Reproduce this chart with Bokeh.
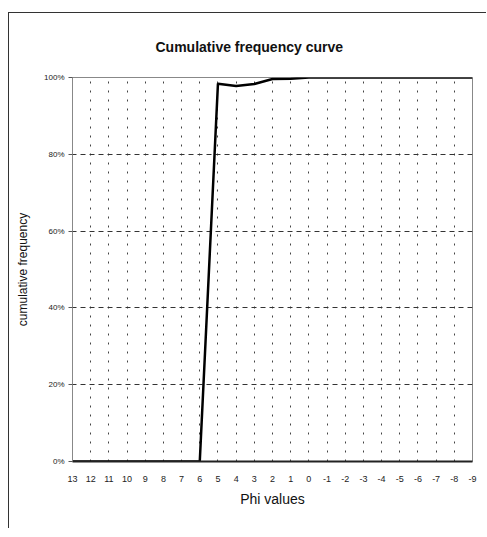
from bokeh.plotting import figure
from bokeh.models import Range1d, FixedTicker, NumeralTickFormatter
from bokeh.embed import file_html
from bokeh.resources import INLINE

phi = [13, 12, 11, 10, 9, 8, 7, 6, 5, 4, 3, 2, 1, 0, -1, -2, -3, -4, -5, -6, -7, -8, -9]
phi_labels = ["13", "12", "11", "10", "9", "8", "7", "6", "5", "4", "3", "2", "1", "0",
              "-1", "-2", "-3", "-4", "-5", "-6", "-7", "-8", "-9"]
cum_freq = [0.0, 0.0, 0.0, 0.0, 0.0, 0.0, 0.0, 0.0, 0.984, 0.978, 0.983, 0.996, 0.997,
            1.0, 1.0, 1.0, 1.0, 1.0, 1.0, 1.0, 1.0, 1.0, 1.0]
y_ticks = [0, 0.2, 0.4, 0.6, 0.8, 1.0]
title_text = "Cumulative frequency curve"

FONT = "Liberation Sans"

p = figure(width=478, height=516, output_backend="svg", toolbar_location=None,
           x_range=Range1d(13, -9), y_range=Range1d(0, 1),
           min_border_left=63, min_border_right=15, min_border_top=63, min_border_bottom=68,
           title=title_text)
p.styles = {"border-left": "1px solid #333", "border-top": "1px solid #333",
            "margin-left": "8px", "margin-top": "12px"}

p.title.text_font = FONT
p.title.text_font_size = "14px"
p.title.text_font_style = "bold"
p.title.text_color = "#111111"
p.title.align = "left"
p.title.vertical_align = "bottom"
p.title.offset = 83
p.title.standoff = 46

p.outline_line_color = "#888888"
p.outline_line_width = 1

p.xaxis.ticker = FixedTicker(ticks=phi)
p.xaxis.major_label_overrides = {v: s for v, s in zip(phi, phi_labels)}
p.yaxis.ticker = FixedTicker(ticks=y_ticks)
p.yaxis.formatter = NumeralTickFormatter(format="0%")

for ax in (p.xaxis[0], p.yaxis[0]):
    ax.major_label_text_font = FONT
    ax.major_label_text_font_size = "8px"
    ax.major_label_text_color = "#222222"
    ax.axis_label_text_font = FONT
    ax.axis_label_text_font_style = "normal"
    ax.axis_label_text_color = "#111111"
    ax.minor_tick_line_color = None
    ax.major_tick_in = 0

p.xaxis.major_label_text_font_size = "9px"
p.xaxis.axis_label = "Phi values"
p.xaxis.axis_label_text_font_size = "14px"
p.xaxis.axis_line_color = "#222222"
p.xaxis.axis_line_width = 2
p.xaxis.major_tick_line_color = None
p.xaxis.major_label_standoff = 8
p.xaxis.axis_label_standoff = 6

p.yaxis.axis_label = "cumulative frequency"
p.yaxis.axis_label_text_font_size = "12px"
p.yaxis.axis_line_color = "#888888"
p.yaxis.major_tick_out = 4
p.yaxis.major_tick_line_color = "#555555"
p.yaxis.major_label_standoff = 4
p.yaxis.axis_label_standoff = 11

p.xgrid.grid_line_color = "#444444"
p.xgrid.grid_line_dash = "2 7"
p.xgrid.grid_line_width = 1
p.ygrid.grid_line_color = "#333333"
p.ygrid.grid_line_dash = "5 4"
p.ygrid.grid_line_width = 1

p.line(phi, cum_freq, line_color="black", line_width=2.5)

open("out.html", "w").write(file_html(p, INLINE))
